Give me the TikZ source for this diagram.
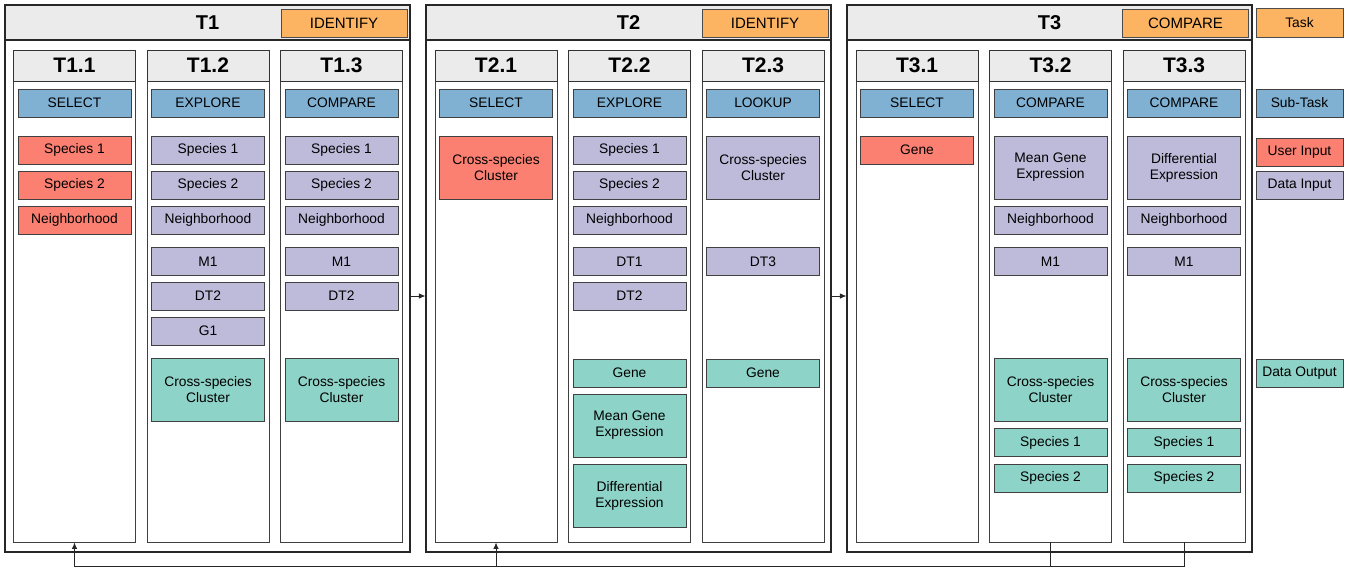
\documentclass[tikz,border=0pt]{standalone}
\usepackage{fontspec}
\setmainfont{Liberation Sans}
\usetikzlibrary{arrows.meta}
\definecolor{headgray}{RGB}{235,235,235}
\definecolor{taskorange}{RGB}{253,180,98}
\definecolor{subblue}{RGB}{128,177,211}
\definecolor{userred}{RGB}{251,128,114}
\definecolor{datapurple}{RGB}{190,186,218}
\definecolor{outgreen}{RGB}{141,211,199}
\tikzset{
	task/.style={draw=black!85, line width=1.1pt, fill=white, minimum width=405pt, minimum height=547pt, inner sep=0pt},
	taskhead/.style={draw=black!85, line width=1.1pt, fill=headgray, minimum width=405pt, minimum height=35pt, inner sep=0pt, font=\fontsize{20}{24}\selectfont\bfseries},
	tasktag/.style={draw=black!70, line width=0.9pt, fill=taskorange, minimum width=126pt, minimum height=28pt, inner sep=0pt, font=\fontsize{15}{18}\selectfont},
	col/.style={draw=black!75, line width=0.9pt, fill=white, minimum width=122pt, minimum height=492pt, inner sep=0pt},
	colhead/.style={draw=black!80, line width=0.9pt, fill=headgray, minimum width=122pt, minimum height=31pt, inner sep=0pt, font=\fontsize{21}{25}\selectfont\bfseries},
	item/.style={draw=black!75, line width=0.9pt, minimum width=113pt, minimum height=28pt, inner sep=0pt, align=center, font=\fontsize{13.8}{16}\selectfont},
	tall/.style={minimum height=63pt},
	subtask/.style={item, fill=subblue},
	userin/.style={item, fill=userred},
	datain/.style={item, fill=datapurple},
	dataout/.style={item, fill=outgreen},
	legend/.style={minimum width=87pt},
	flow/.style={draw=black!85, line width=0.9pt, -{Latex[length=6.5pt,width=5.5pt]}}
}
\begin{document}
\begin{tikzpicture}[x=1pt, y=-1pt]
	\useasboundingbox (0, 0) rectangle (1351, 568);
	% tasks
	\node [task] at (207.5, 278.5) (T1) {};
	\node [task] at (628.5, 278.5) (T2) {};
	\node [task] at (1049.5, 278.5) (T3) {};
	\node [taskhead] at (207.5, 22.5) (T1h) {T1};
	\node [taskhead] at (628.5, 22.5) (T2h) {T2};
	\node [taskhead] at (1049.5, 22.5) (T3h) {T3};
	\node [tasktag] at (344, 23) (T1tag) {IDENTIFY};
	\node [tasktag] at (765, 23) (T2tag) {IDENTIFY};
	\node [tasktag] at (1185.5, 23) (T3tag) {COMPARE};
	% sub-tasks
	\node [col] at (74.5, 296) (T11) {};
	\node [col] at (208, 296) (T12) {};
	\node [col] at (341.5, 296) (T13) {};
	\node [col] at (496, 296) (T21) {};
	\node [col] at (629.5, 296) (T22) {};
	\node [col] at (763, 296) (T23) {};
	\node [col] at (917, 296) (T31) {};
	\node [col] at (1050.5, 296) (T32) {};
	\node [col] at (1184, 296) (T33) {};
	\node [colhead] at (74.5, 65.5) (T11h) {T1.1};
	\node [colhead] at (208, 65.5) (T12h) {T1.2};
	\node [colhead] at (341.5, 65.5) (T13h) {T1.3};
	\node [colhead] at (496, 65.5) (T21h) {T2.1};
	\node [colhead] at (629.5, 65.5) (T22h) {T2.2};
	\node [colhead] at (763, 65.5) (T23h) {T2.3};
	\node [colhead] at (917, 65.5) (T31h) {T3.1};
	\node [colhead] at (1050.5, 65.5) (T32h) {T3.2};
	\node [colhead] at (1184, 65.5) (T33h) {T3.3};
	% T1.1
	\node [subtask] at (74.5, 103) (T11s) {SELECT};
	\node [userin] at (74.5, 150) (T11a) {Species 1};
	\node [userin] at (74.5, 185) (T11b) {Species 2};
	\node [userin] at (74.5, 220) (T11c) {Neighborhood};
	% T1.2
	\node [subtask] at (208, 103) (T12s) {EXPLORE};
	\node [datain] at (208, 150) (T12a) {Species 1};
	\node [datain] at (208, 185) (T12b) {Species 2};
	\node [datain] at (208, 220) (T12c) {Neighborhood};
	\node [datain] at (208, 261.5) (T12d) {M1};
	\node [datain] at (208, 296) (T12e) {DT2};
	\node [datain] at (208, 331) (T12f) {G1};
	\node [dataout, tall] at (208, 390) (T12g) {Cross-species\\Cluster};
	% T1.3
	\node [subtask] at (341.5, 103) (T13s) {COMPARE};
	\node [datain] at (341.5, 150) (T13a) {Species 1};
	\node [datain] at (341.5, 185) (T13b) {Species 2};
	\node [datain] at (341.5, 220) (T13c) {Neighborhood};
	\node [datain] at (341.5, 261.5) (T13d) {M1};
	\node [datain] at (341.5, 296) (T13e) {DT2};
	\node [dataout, tall] at (341.5, 390) (T13f) {Cross-species\\Cluster};
	% T2.1
	\node [subtask] at (496, 103) (T21s) {SELECT};
	\node [userin, tall] at (496, 167.5) (T21a) {Cross-species\\Cluster};
	% T2.2
	\node [subtask] at (629.5, 103) (T22s) {EXPLORE};
	\node [datain] at (629.5, 150) (T22a) {Species 1};
	\node [datain] at (629.5, 185) (T22b) {Species 2};
	\node [datain] at (629.5, 220) (T22c) {Neighborhood};
	\node [datain] at (629.5, 261.5) (T22d) {DT1};
	\node [datain] at (629.5, 296) (T22e) {DT2};
	\node [dataout] at (629.5, 373) (T22f) {Gene};
	\node [dataout, tall] at (629.5, 425.5) (T22g) {Mean Gene\\Expression};
	\node [dataout, tall] at (629.5, 495.5) (T22h) {Differential\\Expression};
	% T2.3
	\node [subtask] at (763, 103) (T23s) {LOOKUP};
	\node [datain, tall] at (763, 167.5) (T23a) {Cross-species\\Cluster};
	\node [datain] at (763, 261.5) (T23b) {DT3};
	\node [dataout] at (763, 373) (T23c) {Gene};
	% T3.1
	\node [subtask] at (917, 103) (T31s) {SELECT};
	\node [userin] at (917, 150) (T31a) {Gene};
	% T3.2
	\node [subtask] at (1050.5, 103) (T32s) {COMPARE};
	\node [datain, tall] at (1050.5, 167.5) (T32a) {Mean Gene\\Expression};
	\node [datain] at (1050.5, 220) (T32b) {Neighborhood};
	\node [datain] at (1050.5, 261.5) (T32c) {M1};
	\node [dataout, tall] at (1050.5, 390) (T32d) {Cross-species\\Cluster};
	\node [dataout] at (1050.5, 442.5) (T32e) {Species 1};
	\node [dataout] at (1050.5, 478) (T32f) {Species 2};
	% T3.3
	\node [subtask] at (1184, 103) (T33s) {COMPARE};
	\node [datain, tall] at (1184, 167.5) (T33a) {Differential\\Expression};
	\node [datain] at (1184, 220) (T33b) {Neighborhood};
	\node [datain] at (1184, 261.5) (T33c) {M1};
	\node [dataout, tall] at (1184, 390) (T33d) {Cross-species\\Cluster};
	\node [dataout] at (1184, 442.5) (T33e) {Species 1};
	\node [dataout] at (1184, 478) (T33f) {Species 2};
	% legend
	\node [tasktag, legend, minimum height=29pt, font=\fontsize{13.8}{16}\selectfont] at (1299.5, 22.5) (Ltask) {Task};
	\node [subtask, legend] at (1299.5, 103) (Lsub) {Sub-Task};
	\node [userin, legend] at (1299.5, 152) (Luser) {User Input};
	\node [datain, legend] at (1299.5, 185) (Ldata) {Data Input};
	\node [dataout, legend] at (1299.5, 373) (Lout) {Data Output};
	% flow
	\coordinate (fb) at (0, 566);
	\draw [flow] ([yshift=-17.5pt]T1.east) -- ([yshift=-17.5pt]T2.west);
	\draw [flow] ([yshift=-17.5pt]T2.east) -- ([yshift=-17.5pt]T3.west);
	\draw [flow] (T33.south) -- (T33.south |- fb) -| (T11.south);
	\draw [draw=black!85, line width=0.9pt] (T32.south) -- (T32.south |- fb);
	\draw [flow] (T21.south |- fb) -- (T21.south);
\end{tikzpicture}
\end{document}
